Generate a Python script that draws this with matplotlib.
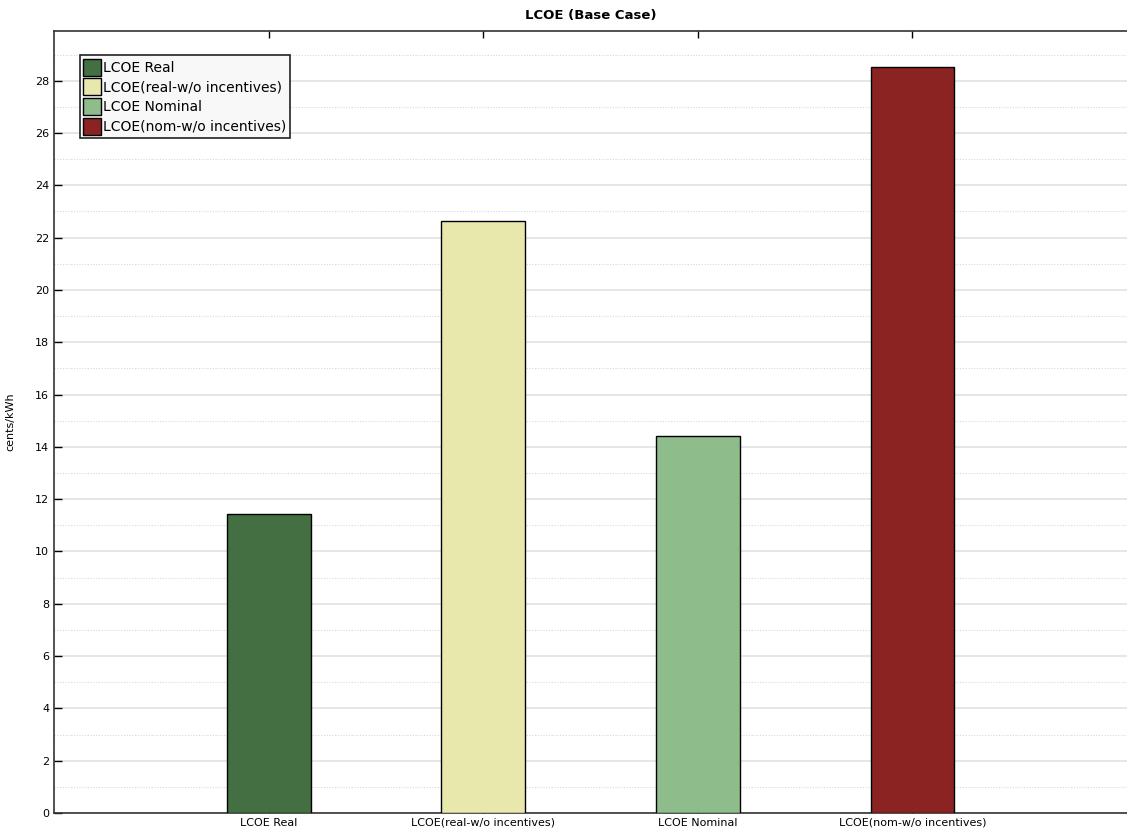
import matplotlib
matplotlib.use("Agg")
import matplotlib.pyplot as plt
from matplotlib.ticker import MultipleLocator

categories = ["LCOE Real", "LCOE(real-w/o incentives)", "LCOE Nominal", "LCOE(nom-w/o incentives)"]
values = [11.44, 22.65, 14.42, 28.54]
colors = ["#436F42", "#E9E8AC", "#8FBC8B", "#8B2323"]

plt.rcParams['font.family'] = ['DejaVu Sans']

fig = plt.figure(figsize=(11.27, 8.39), dpi=100)
ax = fig.add_axes([0.048, 0.031, 0.952, 0.932])

x = list(range(len(categories)))
bars = ax.bar(x, values, width=0.39, color=colors, edgecolor="black", linewidth=1.0,
              label=categories, zorder=3)

ax.set_xlim(-1, 4)
ax.set_ylim(0, 29.9)
ax.set_xticks(x)
ax.set_xticklabels(categories, fontsize=8)
ax.yaxis.set_major_locator(MultipleLocator(2))
ax.yaxis.set_minor_locator(MultipleLocator(1))
ax.tick_params(axis='y', which='major', direction='in', length=6, labelsize=8, width=1)
ax.tick_params(axis='y', which='minor', length=0)
ax.tick_params(axis='x', which='major', direction='in', length=5, top=True, labelsize=8, width=1)

ax.grid(axis='y', which='major', color='#E2E2E2', linewidth=1.2, zorder=0)
ax.grid(axis='y', which='minor', color='#D8D8D8', linestyle=(0, (1, 1.5)), linewidth=0.8, zorder=0)

for side in ['left', 'bottom', 'top']:
    ax.spines[side].set_linewidth(1.2)
    ax.spines[side].set_color('#333333')
ax.spines['right'].set_visible(False)

ax.set_ylabel("cents/kWh", fontsize=8, labelpad=14)
ax.set_title("LCOE (Base Case)", fontsize=9.5, fontweight='bold', pad=9)

leg = ax.legend(loc='upper left', bbox_to_anchor=(0.024, 0.969), fontsize=10,
                handlelength=1.3, handleheight=1.5, handletextpad=0.15,
                borderpad=0.25, labelspacing=0.2, borderaxespad=0,
                fancybox=False, framealpha=1)
leg.get_frame().set_edgecolor('#222222')
leg.get_frame().set_facecolor('#F8F8F8')
leg.get_frame().set_linewidth(1.2)

fig.savefig("out.png", dpi=100)
